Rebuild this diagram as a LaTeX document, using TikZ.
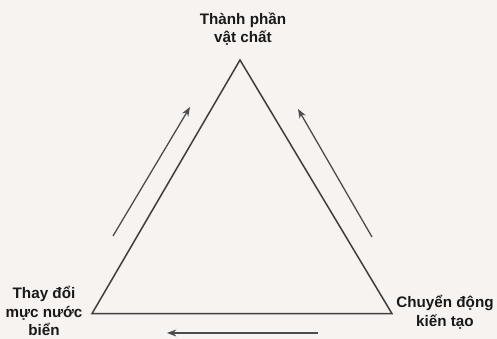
\documentclass[tikz,border=0pt]{standalone}
\usepackage{fontspec}
\setmainfont{Liberation Sans}
\usetikzlibrary{arrows.meta}
\definecolor{paper}{RGB}{247,243,241}

\begin{document}
\begin{tikzpicture}[
 side/.style={draw=black!75, line width=1.3pt},
 flow/.style={-{Stealth[length=8pt,width=6pt]}, draw=black!70, line width=1.1pt},
 cornertext/.style={align=center, inner sep=0pt,
   font=\fontsize{13}{16}\selectfont\bfseries, text=black!90}
]
\fill[paper] (0,0) rectangle (14.91,10.17);
% corners of the triangle
\coordinate (apex) at (7.2,8.37);
\coordinate (sw) at (2.76,0.76);
\coordinate (se) at (11.76,0.76);
\draw[side] (apex) -- (sw) -- (se) -- cycle;
% labels
\node[cornertext] (matter) at (7.29,9.30) {Thành phần\\vật chất};
\node[cornertext] (sealevel) at (1.32,0.84) {Thay đổi\\mực nước\\biển};
\node[cornertext] (tectonic) at (13.35,0.81) {Chuyển động\\kiến tạo};
% arrows along the sides
\coordinate (leftfrom) at (3.39,3.09);
\coordinate (leftto) at (5.70,6.96);
\coordinate (rightfrom) at (11.16,3.06);
\coordinate (rightto) at (8.94,6.90);
\coordinate (basefrom) at (9.54,0.18);
\coordinate (baseto) at (5.01,0.18);
\draw[flow] (leftfrom) -- (leftto);
\draw[flow] (rightfrom) -- (rightto);
\draw[flow] (basefrom) -- (baseto);
\end{tikzpicture}
\end{document}
